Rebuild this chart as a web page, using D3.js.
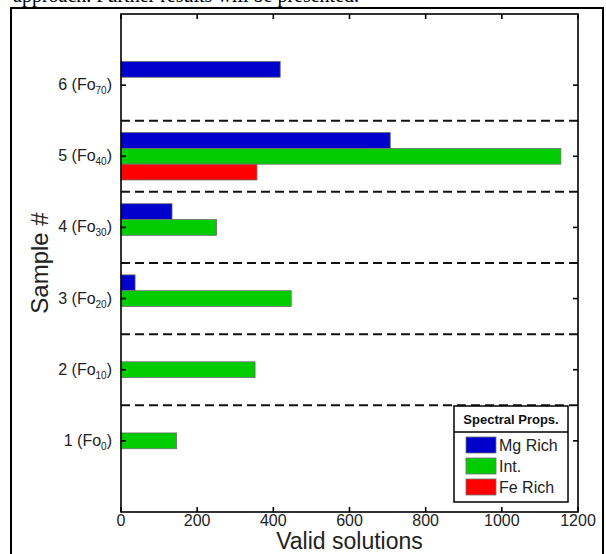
<!DOCTYPE html>
<html><head><meta charset="utf-8">
<script src="https://cdn.jsdelivr.net/npm/d3@7"></script>
<style>body{margin:0;background:#fff}svg{display:block}</style>
</head><body>
<script>
const samples = [1, 2, 3, 4, 5, 6];
const sampleLabels = [["1 (Fo","0",")"],["2 (Fo","10",")"],["3 (Fo","20",")"],["4 (Fo","30",")"],["5 (Fo","40",")"],["6 (Fo","70",")"]];
const seriesNames = ["Mg Rich", "Int.", "Fe Rich"];
const seriesColors = ["#0000cc", "#00cc00", "#ff0000"];
const mgRich = [0, 0, 37, 134, 707, 418];
const intermediate = [146, 352, 447, 251, 1155, 0];
const feRich = [0, 0, 0, 0, 357, 0];
const xTicks = [0, 200, 400, 600, 800, 1000, 1200];
const separators = [1.5, 2.5, 3.5, 4.5, 5.5];

const W = 606, H = 554;
const svg = d3.select("body").append("svg").attr("width", W).attr("height", H);
const font = "'Liberation Sans', Arial, Helvetica, sans-serif";

// page text and frame
svg.append("text").attr("x", 13).attr("y", 2).attr("font-family", "'Liberation Serif', 'Times New Roman', serif")
  .attr("font-size", 20).text("approach. Further results will be presented.");
svg.append("path").attr("d", `M11,${H+2} L11,8 L603,8 L603,${H+2}`).attr("fill", "none").attr("stroke", "#000").attr("stroke-width", 2);

const L = 121, R = 578, T = 14, B = 512;
const x = d3.scaleLinear().domain([0, 1200]).range([L, R]);
const y = d3.scaleLinear().domain([0, 7]).range([B, T]);

const series = [mgRich, intermediate, feRich];
const offsets = [0.222, 0, -0.222];
const bw = 0.222;
series.forEach((vals, si) => {
  svg.append("g").selectAll("rect").data(samples.map((s, i) => ({s, v: vals[i]})).filter(d => d.v > 0))
    .join("rect")
    .attr("x", x(0))
    .attr("y", d => y(d.s + offsets[si] + bw / 2))
    .attr("width", d => x(d.v) - x(0))
    .attr("height", d => y(0) - y(bw))
    .attr("fill", seriesColors[si])
    .attr("stroke", "#6e6e6e").attr("stroke-width", 0.8);
});

// separators
svg.append("g").selectAll("line").data(separators).join("line")
  .attr("x1", L).attr("x2", R).attr("y1", d => y(d)).attr("y2", d => y(d))
  .attr("stroke", "#111").attr("stroke-width", 2).attr("stroke-dasharray", "9,5");

// axes box
svg.append("rect").attr("x", L).attr("y", T).attr("width", R - L).attr("height", B - T)
  .attr("fill", "none").attr("stroke", "#000").attr("stroke-width", 1.6);

// ticks (inward)
const tl = 5;
const g = svg.append("g").attr("stroke", "#000").attr("stroke-width", 1.6);
xTicks.forEach(t => {
  g.append("line").attr("x1", x(t)).attr("x2", x(t)).attr("y1", B).attr("y2", B - tl);
  g.append("line").attr("x1", x(t)).attr("x2", x(t)).attr("y1", T).attr("y2", T + tl);
});
samples.forEach(s => {
  g.append("line").attr("x1", L).attr("x2", L + tl).attr("y1", y(s)).attr("y2", y(s));
  g.append("line").attr("x1", R).attr("x2", R - tl).attr("y1", y(s)).attr("y2", y(s));
});

// tick labels
svg.append("g").selectAll("text").data(xTicks).join("text")
  .attr("x", d => x(d)).attr("y", 526).attr("text-anchor", "middle")
  .attr("font-family", font).attr("font-size", 16).attr("fill", "#222").text(d => d);

const yl = svg.append("g").selectAll("text").data(samples).join("text")
  .attr("x", 112).attr("y", d => y(d) + 5).attr("text-anchor", "end")
  .attr("font-family", font).attr("font-size", 16).attr("fill", "#222");
yl.each(function(d, i) {
  const t = d3.select(this), lab = sampleLabels[i];
  t.append("tspan").text(lab[0]);
  t.append("tspan").attr("font-size", 10).attr("dy", 4).text(lab[1]);
  t.append("tspan").attr("dy", -4).text(lab[2]);
});

// axis titles
svg.append("text").attr("x", (L + R) / 2).attr("y", 549).attr("text-anchor", "middle")
  .attr("font-family", font).attr("font-size", 23).attr("fill", "#222").text("Valid solutions");
svg.append("text").attr("transform", `translate(48,${(T + B) / 2}) rotate(-90)`).attr("text-anchor", "middle")
  .attr("font-family", font).attr("font-size", 24).attr("fill", "#222").text("Sample #");

// legend
const lg = svg.append("g");
lg.append("rect").attr("x", 454).attr("y", 406).attr("width", 114).attr("height", 96)
  .attr("fill", "#fff").attr("stroke", "#000").attr("stroke-width", 1.5);
lg.append("line").attr("x1", 454).attr("x2", 568).attr("y1", 432).attr("y2", 432).attr("stroke", "#000").attr("stroke-width", 1.5);
lg.append("text").attr("x", 511).attr("y", 424).attr("text-anchor", "middle").attr("font-family", font)
  .attr("font-weight", "bold").attr("font-size", 13).attr("fill", "#111").text("Spectral Props.");
seriesNames.forEach((n, i) => {
  lg.append("rect").attr("x", 466).attr("y", 437 + i * 21).attr("width", 30).attr("height", 16)
    .attr("fill", seriesColors[i]).attr("stroke", "#6e6e6e").attr("stroke-width", 0.8);
  lg.append("text").attr("x", 499).attr("y", 451 + i * 21).attr("font-family", font)
    .attr("font-size", 16).attr("fill", "#222").text(n);
});
</script>
</body></html>
